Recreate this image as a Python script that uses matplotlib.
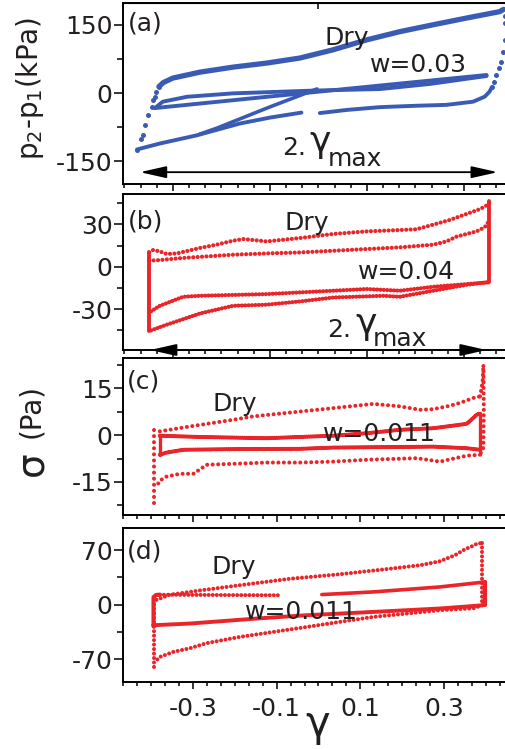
import matplotlib
matplotlib.use('Agg')
import matplotlib.pyplot as plt
from matplotlib.ticker import FixedLocator, MultipleLocator

plt.rcParams['font.family'] = ['DejaVu Sans']
plt.rcParams['mathtext.fontset'] = 'dejavusans'

W, H, DPI = 506, 749, 100
BLUE = '#3a5bb5'
RED = '#ea2428'
TXT = '#231f20'

# ---------------- data ----------------
# panel (a)  p2-p1 (kPa)
a_dry_up_dots_x = [-0.375, -0.365, -0.361, -0.358, -0.351, -0.344, -0.341, -0.338, -0.334, -0.329]
a_dry_up_dots_y = [-126, -100, -93, -71, -49, -30, -15, -8, 3, 14]
a_dry_up_x = [-0.329, -0.320, -0.300, -0.244, -0.176, -0.106, -0.038, 0.030, 0.100, 0.168, 0.236, 0.306, 0.374, 0.382]
a_dry_up_y = [14, 23, 33, 46, 57, 66, 77, 95, 117, 135, 150, 165, 179, 184]
a_drop_x = [0.384, 0.385, 0.384, 0.381, 0.376, 0.372, 0.367, 0.362, 0.358]
a_drop_y = [170, 154, 117, 91, 69, 55, 40, 25, 13]
a_dry_lo_r_x = [0.358, 0.353, 0.343, 0.319, 0.264, 0.200, 0.127, 0.060, 0.003]
a_dry_lo_r_y = [13, 3, -8, -19, -26, -28, -31, -37, -44]
a_dry_lo_l_x = [-0.035, -0.100, -0.162, -0.251, -0.327, -0.374]
a_dry_lo_l_y = [-43, -54, -67, -93, -111, -124]
a_diag_x = [-0.244, -0.209, -0.106, -0.003]
a_diag_y = [-90, -77, -33, 9]
a_w_up_x = [-0.337, -0.141, 0.127, 0.347]
a_w_up_y = [-33, -12, 16.5, 39.7]
a_w_lo_x = [0.347, 0.230, 0.127, -0.007, -0.176, -0.271, -0.321, -0.337]
a_w_lo_y = [37.5, 20, 8.8, 5.5, -0.7, -8.2, -19, -33]
a_arrow_x = [-0.368, 0.370]
a_arrow_y = -174

# panel (b)
b_up_out_x = [-0.349, -0.341, -0.327, -0.313, -0.292, -0.244, -0.210, -0.176, -0.155, -0.134, -0.107, -0.038,
              0.031, 0.099, 0.168, 0.202, 0.237, 0.271, 0.306, 0.334, 0.350, 0.354]
b_up_out_y = [10.1, 11.8, 10.8, 9.0, 9.4, 13.3, 15.6, 18.4, 19.6, 18.9, 17.9, 20.3,
              23.2, 25.0, 26.0, 26.5, 29.8, 33.1, 37.4, 40.9, 44.0, 46.3]
b_up_in_x = [-0.349, -0.327, -0.279, -0.176, -0.107, -0.038, 0.031, 0.099, 0.168, 0.237, 0.264, 0.285,
             0.306, 0.326, 0.343, 0.350]
b_up_in_y = [4.3, 4.7, 6.2, 8.5, 9.4, 10.1, 11.3, 12.5, 13.7, 15.6, 17.9, 21.3, 23.2, 25.0, 27.9, 31.4]
b_right_x = [0.352, 0.352]
b_right_y = [46.3, -11.1]
b_lo_in_x = [0.350, 0.306, 0.237, 0.168, 0.099, 0.031, -0.107, -0.244, -0.279, -0.327, -0.349]
b_lo_in_y = [-11.1, -12.3, -14.2, -17.0, -15.8, -17.0, -19.4, -20.6, -21.3, -27.7, -32.4]
b_lo_out_x = [0.347, 0.306, 0.237, 0.168, 0.134, 0.031, -0.038, -0.107, -0.176, -0.244, -0.313, -0.334, -0.347]
b_lo_out_y = [-11.1, -12.8, -17.0, -21.3, -20.6, -21.8, -24.6, -26.9, -27.7, -33.1, -41.1, -43.7, -45.4]
b_left_x = [-0.349, -0.349]
b_left_y = [10.1, -45.4]
b_arrow_x = [-0.347, 0.347]

# panel (c)  sigma (Pa)
c_dry_up_x = [-0.379, -0.315, -0.267, -0.204, -0.156, -0.084, -0.004, 0.075, 0.131, 0.195, 0.243, 0.274,
              0.314, 0.338, 0.370, 0.386]
c_dry_up_y = [1.2, 2.6, 3.6, 4.9, 6.0, 7.0, 8.1, 9.2, 10.0, 9.2, 8.1, 8.3, 9.4, 10.3, 11.9, 12.4]
c_dry_r_x = [0.386, 0.392, 0.394, 0.395, 0.394, 0.386]
c_dry_r_y = [12.4, 17.0, 22.5, 8.0, -4.0, -6.3]
c_dry_lo_x = [0.386, 0.354, 0.290, 0.235, 0.115, 0.035, -0.044, -0.124, -0.204, -0.267, -0.299, -0.331,
              -0.363, -0.379, -0.387]
c_dry_lo_y = [-6.3, -6.6, -8.5, -7.4, -7.9, -8.5, -8.8, -8.8, -9.2, -9.5, -12.4, -12.4, -13.3, -14.6, -16.5]
c_dry_l_x = [-0.393, -0.393]
c_dry_l_y = [1.5, -22.5]
c_w_up_x = [-0.379, -0.283, -0.124, 0.035, 0.115, 0.195, 0.274, 0.354, 0.378, 0.386]
c_w_up_y = [-0.2, -0.6, -1.0, -0.2, 0.6, 1.7, 2.2, 3.6, 6.5, 7.1]
c_w_r_x = [0.386, 0.386]
c_w_r_y = [7.1, -5.0]
c_w_lo_x = [0.386, 0.354, 0.274, 0.035, -0.044, -0.204, -0.323, -0.363, -0.379]
c_w_lo_y = [-4.7, -4.2, -3.7, -4.0, -4.4, -4.5, -4.7, -5.6, -6.3]
c_w_l_x = [-0.379, -0.379]
c_w_l_y = [-6.3, -0.2]

# panel (d)
d_dry_up_x = [-0.387, -0.356, -0.284, -0.188, -0.068, 0.051, 0.171, 0.243, 0.290, 0.326, 0.350, 0.367, 0.381, 0.391]
d_dry_up_y = [6.0, 12.5, 18.0, 24.8, 33.1, 38.9, 46.0, 50.5, 55.6, 63.3, 71.0, 74.9, 78.7, 78.7]
d_dry_r_x = [0.391, 0.391]
d_dry_r_y = [78.7, 0.0]
d_dry_lo_x = [0.391, 0.370, 0.290, 0.211, 0.131, 0.051, -0.028, -0.108, -0.188, -0.268, -0.307, -0.347, -0.379, -0.391]
d_dry_lo_y = [-0.9, -4.8, -7.3, -11.6, -15.9, -22.3, -28.8, -35.2, -41.6, -49.7, -56.1, -60.9, -67.3, -73.7]
d_dry_l_x = [-0.393, -0.393]
d_dry_l_y = [-80.0, 5.5]
d_w_l_x = [-0.394, -0.394, -0.388, -0.379]
d_w_l_y = [-28.0, 9.5, 12.3, 12.6]
d_w_up_l_x = [-0.379, -0.235, -0.092]
d_w_up_l_y = [12.6, 12.2, 11.9]
d_w_up_r_x = [0.008, 0.131, 0.290, 0.398]
d_w_up_r_y = [12.8, 16.2, 22.6, 29.0]
d_w_r_x = [0.398, 0.398]
d_w_r_y = [29.0, -0.9]
d_w_lo_x = [0.394, 0.290, 0.131, -0.028, -0.148, -0.307, -0.395]
d_w_lo_y = [-0.9, -5.1, -9.5, -13.7, -18.0, -24.4, -26.6]

x_major = [-0.3, -0.1, 0.1, 0.3]
x_labels = ['-0.3', '-0.1', '0.1', '0.3']
a_yticks = [-150, 0, 150]
b_yticks = [-30, 0, 30]
c_yticks = [-15, 0, 15]
d_yticks = [-70, 0, 70]

# ---------------- figure ----------------
fig = plt.figure(figsize=(W / DPI, H / DPI), dpi=DPI)


def box(top, bottom, left=123, right=506):
    return [left / W, 1 - bottom / H, (right - left) / W, (bottom - top) / H]


axA = fig.add_axes(box(3, 184))
axB = fig.add_axes(box(194, 350))
axC = fig.add_axes(box(358, 515))
axD = fig.add_axes(box(528, 682))

axA.set_xlim(-0.403, 0.387); axA.set_ylim(-200, 198)
axB.set_xlim(-0.403, 0.387); axB.set_ylim(-59, 51.5)
axC.set_xlim(-0.467, 0.448); axC.set_ylim(-25.6, 24.7)
axD.set_xlim(-0.467, 0.448); axD.set_ylim(-99.5, 98.3)

for ax, yt, ym in [(axA, a_yticks, 75), (axB, b_yticks, 15), (axC, c_yticks, 7.5), (axD, d_yticks, 35)]:
    ax.xaxis.set_major_locator(FixedLocator(x_major))
    ax.xaxis.set_minor_locator(MultipleLocator(1 / 30))
    ax.yaxis.set_major_locator(FixedLocator(yt))
    ax.yaxis.set_minor_locator(MultipleLocator(ym))
    ax.set_yticklabels([str(v) for v in yt])
    ax.tick_params(axis='x', which='major', direction='out', length=5, width=1.1, pad=6,
                   labelsize=18, labelcolor=TXT)
    ax.tick_params(axis='x', which='minor', direction='out', length=2.6, width=1.1)
    ax.tick_params(axis='y', which='major', direction='out', length=6.5, width=1.1, pad=1,
                   labelsize=18, labelcolor=TXT)
    ax.tick_params(axis='y', which='minor', direction='out', length=4, width=1.1)
    for s in ax.spines.values():
        s.set_linewidth(1.4)
    ax.spines['right'].set_visible(False)
    if ax is not axD:
        ax.tick_params(axis='x', labelbottom=False)

axD.set_xticklabels(x_labels)

sec = axA.secondary_xaxis('top')
sec.set_xticks([0])
sec.set_xticklabels([])
sec.tick_params(direction='in', length=4.5, width=1.1)


def solid(ax, x, y, color, lw):
    ax.plot(x, y, '-', color=color, lw=lw, solid_capstyle='round', solid_joinstyle='round')


def dotted(ax, x, y, color, lw, gap):
    ax.plot(x, y, color=color, lw=lw, linestyle=(0, (0.01, gap)), dash_capstyle='round')


def dots(ax, x, y, color, ms):
    ax.plot(x, y, 'o', color=color, ms=ms, mew=0)


# panel a
dots(axA, a_dry_up_dots_x, a_dry_up_dots_y, BLUE, 3.6)
solid(axA, a_dry_up_x, a_dry_up_y, BLUE, 3.8)
dots(axA, a_drop_x, a_drop_y, BLUE, 3.6)
solid(axA, a_dry_lo_r_x, a_dry_lo_r_y, BLUE, 2.8)
solid(axA, a_dry_lo_l_x, a_dry_lo_l_y, BLUE, 2.8)
solid(axA, a_diag_x, a_diag_y, BLUE, 2.6)
solid(axA, a_w_up_x, a_w_up_y, BLUE, 2.8)
solid(axA, a_w_lo_x, a_w_lo_y, BLUE, 2.8)
axA.annotate('', xy=(a_arrow_x[1], a_arrow_y), xytext=(a_arrow_x[0], a_arrow_y),
             arrowprops=dict(arrowstyle='<|-|>,head_length=1.6,head_width=0.36', lw=1.3, color='k',
                             shrinkA=0, shrinkB=0))

# panel b
dotted(axB, b_up_out_x, b_up_out_y, RED, 3.0, 1.05)
dotted(axB, b_up_in_x, b_up_in_y, RED, 3.0, 1.05)
solid(axB, b_right_x, b_right_y, RED, 2.8)
dotted(axB, b_lo_in_x, b_lo_in_y, RED, 3.0, 0.8)
dotted(axB, b_lo_out_x, b_lo_out_y, RED, 3.0, 0.8)
solid(axB, b_left_x, b_left_y, RED, 2.8)
axB.annotate('', xy=(b_arrow_x[1], 0), xytext=(b_arrow_x[0], 0),
             xycoords=('data', 'axes fraction'), textcoords=('data', 'axes fraction'),
             arrowprops=dict(arrowstyle='<|-|>,head_length=1.6,head_width=0.36', lw=1.3, color='k',
                             shrinkA=0, shrinkB=0), annotation_clip=False)

# panel c
dotted(axC, c_dry_up_x, c_dry_up_y, RED, 2.9, 1.35)
dotted(axC, c_dry_r_x, c_dry_r_y, RED, 2.9, 1.35)
dotted(axC, c_dry_lo_x, c_dry_lo_y, RED, 2.9, 1.35)
dotted(axC, c_dry_l_x, c_dry_l_y, RED, 2.9, 1.5)
dotted(axC, c_w_up_x, c_w_up_y, RED, 3.0, 0.5)
solid(axC, c_w_r_x, c_w_r_y, RED, 2.4)
dotted(axC, c_w_lo_x, c_w_lo_y, RED, 3.0, 0.5)
solid(axC, c_w_l_x, c_w_l_y, RED, 2.4)

# panel d
dotted(axD, d_dry_up_x, d_dry_up_y, RED, 2.9, 1.1)
dotted(axD, d_dry_r_x, d_dry_r_y, RED, 2.9, 1.1)
dotted(axD, d_dry_lo_x, d_dry_lo_y, RED, 2.9, 1.1)
dotted(axD, d_dry_l_x, d_dry_l_y, RED, 2.9, 1.1)
solid(axD, d_w_l_x, d_w_l_y, RED, 3.0)
dotted(axD, d_w_up_l_x, d_w_up_l_y, RED, 2.9, 1.0)
solid(axD, d_w_up_r_x, d_w_up_r_y, RED, 2.6)
solid(axD, d_w_r_x, d_w_r_y, RED, 3.0)
solid(axD, d_w_lo_x, d_w_lo_y, RED, 2.8)


# ---------------- text ----------------
def ftext(px, py, s, size=18, **kw):
    kw.setdefault('ha', 'left')
    kw.setdefault('va', 'baseline')
    fig.text(px / W, 1 - py / H, s, fontsize=size, color=TXT, **kw)


ftext(128, 31, '(a)')
ftext(325, 45, 'Dry')
ftext(370, 72, 'w=0.03')
ftext(282, 155, '2.')
ftext(309, 152, 'γ', size=26)
ftext(328, 166, 'max')

ftext(128, 229, '(b)')
ftext(285, 230, 'Dry')
ftext(358, 279, 'w=0.04')
ftext(327, 337, '2.')
ftext(355, 334, 'γ', size=26)
ftext(373, 346, 'max')

ftext(127, 389, '(c)')
ftext(213, 411, 'Dry')
ftext(323, 441, 'w=0.011')

ftext(127, 558, '(d)')
ftext(212, 574, 'Dry')
ftext(245, 619, 'w=0.011')

# axis labels
ftext(30, 88, r'p$_2$-p$_1$(kPa)', size=20, rotation=90, ha='center', va='center')
ftext(31, 464, 'σ', size=28, rotation=90, ha='center', va='center')
ftext(31, 411, '(Pa)', size=20, rotation=90, ha='center', va='center')
ftext(318, 724, 'γ', size=30, ha='center', va='center')

fig.savefig('out.png', dpi=DPI)
